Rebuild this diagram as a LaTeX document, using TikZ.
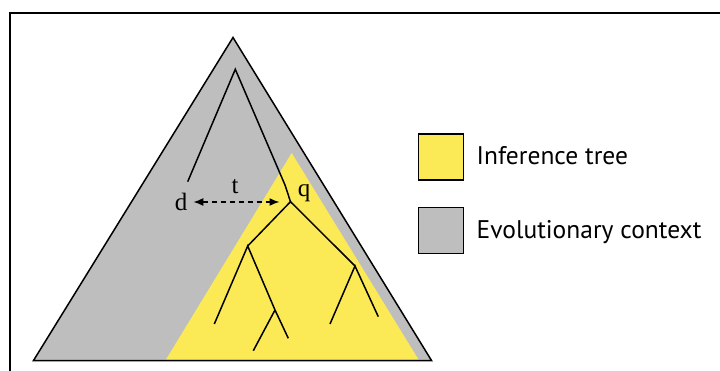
\documentclass[tikz,border=0pt]{standalone}
\usepackage{fontspec}
\setsansfont{PT Sans}
\newfontfamily\labelfont{Liberation Serif}
\usetikzlibrary{arrows.meta}
\definecolor{ctxgray}{RGB}{190,190,190}
\definecolor{infyellow}{RGB}{251,233,85}
\tikzset{
  branch/.style={line width=1.5pt},
  keybox/.style={draw,line width=1.5pt,minimum width=45pt,minimum height=46pt,inner sep=0pt},
  keytext/.style={anchor=base west,inner sep=0pt,font=\sffamily\fontsize{25.5}{30}\selectfont},
  letter/.style={anchor=base,inner sep=0pt,font=\labelfont\fontsize{25}{30}\selectfont}
}
\begin{document}
\begin{tikzpicture}[x=1pt,y=-1pt]
\useasboundingbox (0,0) rectangle (720,371);
\clip (0,0) rectangle (720,371);
\draw[line width=2pt] (10,13) rectangle (730,385);

\coordinate (top) at (233,37.5);
\coordinate (bl) at (33.5,360.5);
\coordinate (br) at (431.5,360.5);
\fill[ctxgray] (top) -- (bl) -- (br) -- cycle;
\fill[infyellow] (291.7,153) -- (166,359.5) -- (418.5,359.5) -- cycle;
\draw[line width=1.5pt,line join=miter] (top) -- (bl) -- (br) -- cycle;

\coordinate (root) at (235.3,69.3);
\coordinate (dleaf) at (187.7,181.7);
\coordinate (bend) at (285,185);
\coordinate (qnode) at (290.5,201.7);
\coordinate (left) at (247.7,246);
\coordinate (right) at (355,266);
\coordinate (mid) at (275,310);
\coordinate (l1) at (214.3,324);
\coordinate (l2) at (288.3,338.3);
\coordinate (m1) at (253.3,350.7);
\coordinate (r1) at (330,324);
\coordinate (r2) at (378.3,316.7);

\draw[branch] (dleaf) -- (root) -- (bend) -- (qnode);
\draw[branch] (left) -- (qnode) -- (right);
\draw[branch] (l1) -- (left) -- (mid) -- (l2);
\draw[branch] (mid) -- (m1);
\draw[branch] (r1) -- (right) -- (r2);

\node[letter] (d) at (181,210.7) {d};
\node[letter] (t) at (235,193.3) {t};
\node[letter] (q) at (304,197) {q};
\coordinate (tipd) at (193.3,202);
\coordinate (tipq) at (279.5,202);
\draw[line width=1.5pt,dash pattern=on 5pt off 4pt,{Latex[length=10pt,width=8pt]}-{Latex[length=10pt,width=8pt]}] (tipd) -- (tipq);

\node[keybox,fill=infyellow] (inf) at (441,157) {};
\node[keybox,fill=ctxgray] (ctx) at (441,230.5) {};
\node[keytext] (inflabel) at (476.5,165) {Inference tree};
\node[keytext] (ctxlabel) at (476.5,239) {Evolutionary context};
\end{tikzpicture}
\end{document}
